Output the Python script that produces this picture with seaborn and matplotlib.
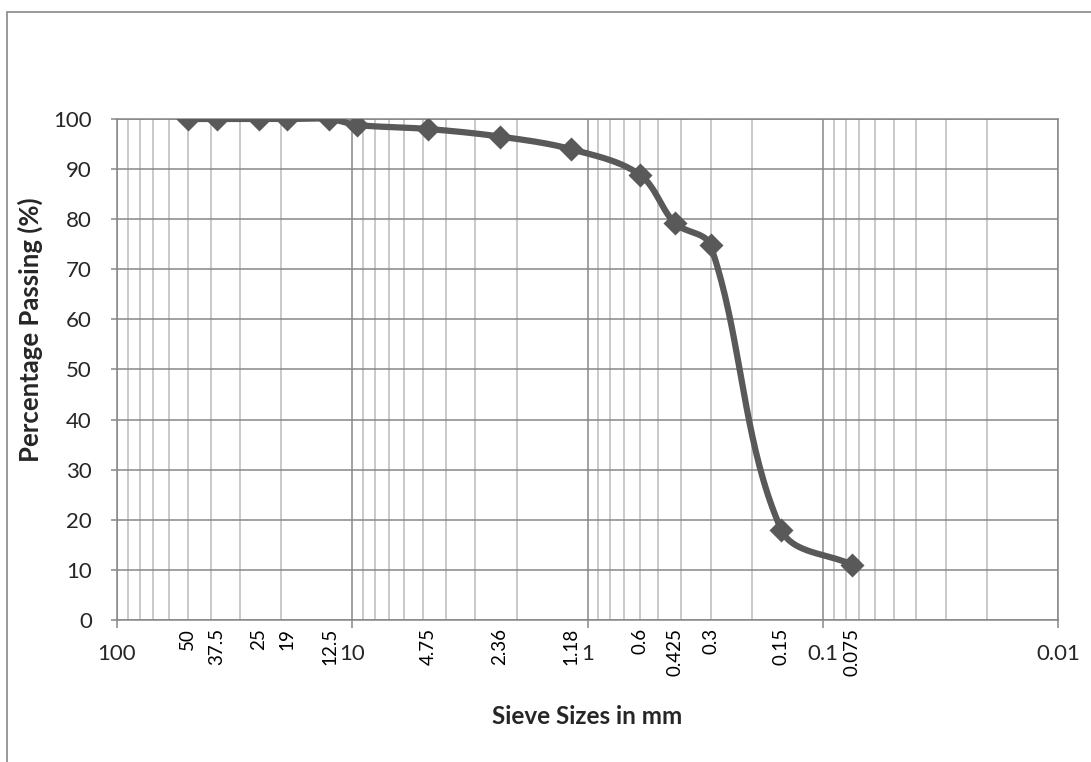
import numpy as np
import pandas as pd
import matplotlib
matplotlib.use("Agg")
import matplotlib.pyplot as plt
import matplotlib.patches as mpatches
import seaborn as sns

# Sieve analysis data

sieve_mm = [50, 37.5, 25, 19, 12.5, 9.5, 4.75, 2.36, 1.18, 0.6, 0.425, 0.3, 0.15, 0.075]
passing = [100, 100, 100, 100, 100, 98.8, 98.0, 96.5, 94.0, 88.9, 79.2, 74.8, 18.0, 11.0]

# rotated size labels written under the axis
label_sizes = [50, 37.5, 25, 19, 12.5, 4.75, 2.36, 1.18, 0.6, 0.425, 0.3, 0.15, 0.075]
label_texts = ["50", "37.5", "25", "19", "12.5", "4.75", "2.36", "1.18", "0.6",
               "0.425", "0.3", "0.15", "0.075"]

major_ticks = [100, 10, 1, 0.1, 0.01]
major_labels = ["100", "10", "1", "0.1", "0.01"]
y_ticks = list(range(0, 101, 10))

df = pd.DataFrame({"size": sieve_mm, "passing": passing})

# Excel-like smoothed line: bezier segments, tangents scaled by segment length
# (worked out in pixel space so the curve does not overshoot)

PX_DECADE = 235.0
PX_UNIT = 5.01


def smooth_curve(xs, ys, n=40):
    px = np.log10(np.asarray(xs, dtype=float)) * -PX_DECADE
    py = np.asarray(ys, dtype=float) * PX_UNIT
    pts = np.column_stack([px, py])
    out = []
    for i in range(len(pts) - 1):
        p0 = pts[i - 1] if i > 0 else pts[i]
        p1 = pts[i]
        p2 = pts[i + 1]
        p3 = pts[i + 2] if i + 2 < len(pts) else pts[i + 1]
        L = np.linalg.norm(p2 - p1)
        d1 = p2 - p0
        d1 = d1 / np.linalg.norm(d1)
        d2 = p3 - p1
        d2 = d2 / np.linalg.norm(d2)
        c1 = p1 + d1 * L / 3
        c2 = p2 - d2 * L / 3
        t = np.linspace(0, 1, n)[:, None]
        seg = ((1 - t) ** 3) * p1 + 3 * ((1 - t) ** 2) * t * c1 + 3 * (1 - t) * t ** 2 * c2 + t ** 3 * p2
        out.append(seg if i == 0 else seg[1:])
    out = np.vstack(out)
    return pd.DataFrame({"size": 10 ** (out[:, 0] / -PX_DECADE), "passing": out[:, 1] / PX_UNIT})


curve = smooth_curve(sieve_mm, passing)

sns.set_style("white")
plt.rcParams["font.family"] = ["Lato", "DejaVu Sans"]

fig = plt.figure(figsize=(10.91, 7.62), dpi=100)
ax = fig.add_axes([117 / 1091, 1 - 620 / 762, 941 / 1091, 501 / 762])

major_grid = "#878787"
minor_grid = "#c0c0c0"
line_col = "#595959"

ax.set_xscale("log")
ax.set_xlim(100, 0.01)
ax.set_ylim(0, 100)

# minor vertical grid
for dec in [10, 1, 0.1, 0.01]:
    for k in range(2, 10):
        ax.axvline(dec * k, color=minor_grid, lw=1.2, zorder=0)
for d in major_ticks:
    ax.axvline(d, color=major_grid, lw=1.1, zorder=0.5)
for yv in y_ticks:
    ax.axhline(yv, color=major_grid, lw=1.1, zorder=0.5)

sns.lineplot(data=curve, x="size", y="passing", sort=False, estimator=None,
             color=line_col, lw=4.5, ax=ax, zorder=3)
sns.scatterplot(data=df, x="size", y="passing", marker="D", s=150,
                color=line_col, edgecolor=line_col, linewidth=0, ax=ax, zorder=4)

ax.set_xticks(major_ticks)
ax.set_xticklabels(major_labels)
ax.xaxis.set_minor_locator(matplotlib.ticker.NullLocator())
ax.set_yticks(y_ticks)
ax.tick_params(axis="x", which="major", length=6, width=1.1, color=major_grid,
               pad=11, labelsize=16)
ax.tick_params(axis="y", which="major", length=4, width=1.1, color=major_grid,
               pad=14, labelsize=16)
ax.tick_params(bottom=True, left=True)

for s in ["left", "bottom", "top", "right"]:
    ax.spines[s].set_color(major_grid)
    ax.spines[s].set_linewidth(1.1)

for xv, txt in zip(label_sizes, label_texts):
    ax.text(xv, -0.016, txt, transform=ax.get_xaxis_transform(), rotation=90,
            ha="center", va="top", fontsize=13.5, color="black")

ax.set_xlabel("")
ax.set_ylabel("")
fig.text(587 / 1091, 1 - 716 / 762, "Sieve Sizes in mm", ha="center", va="center",
         fontsize=17.5, fontweight="bold")
fig.text(30 / 1091, 1 - 330 / 762, "Percentage Passing (%)", ha="center", va="center",
         rotation=90, fontsize=18.5, fontweight="bold")

# outer chart border
fig.patches.append(mpatches.Rectangle((7 / 1091, -0.1), 1.2, 1 - 12 / 762 + 0.1,
                                      transform=fig.transFigure, fill=False,
                                      edgecolor="#888888", lw=1.2))

fig.savefig("out.png", dpi=100)
plt.close(fig)
